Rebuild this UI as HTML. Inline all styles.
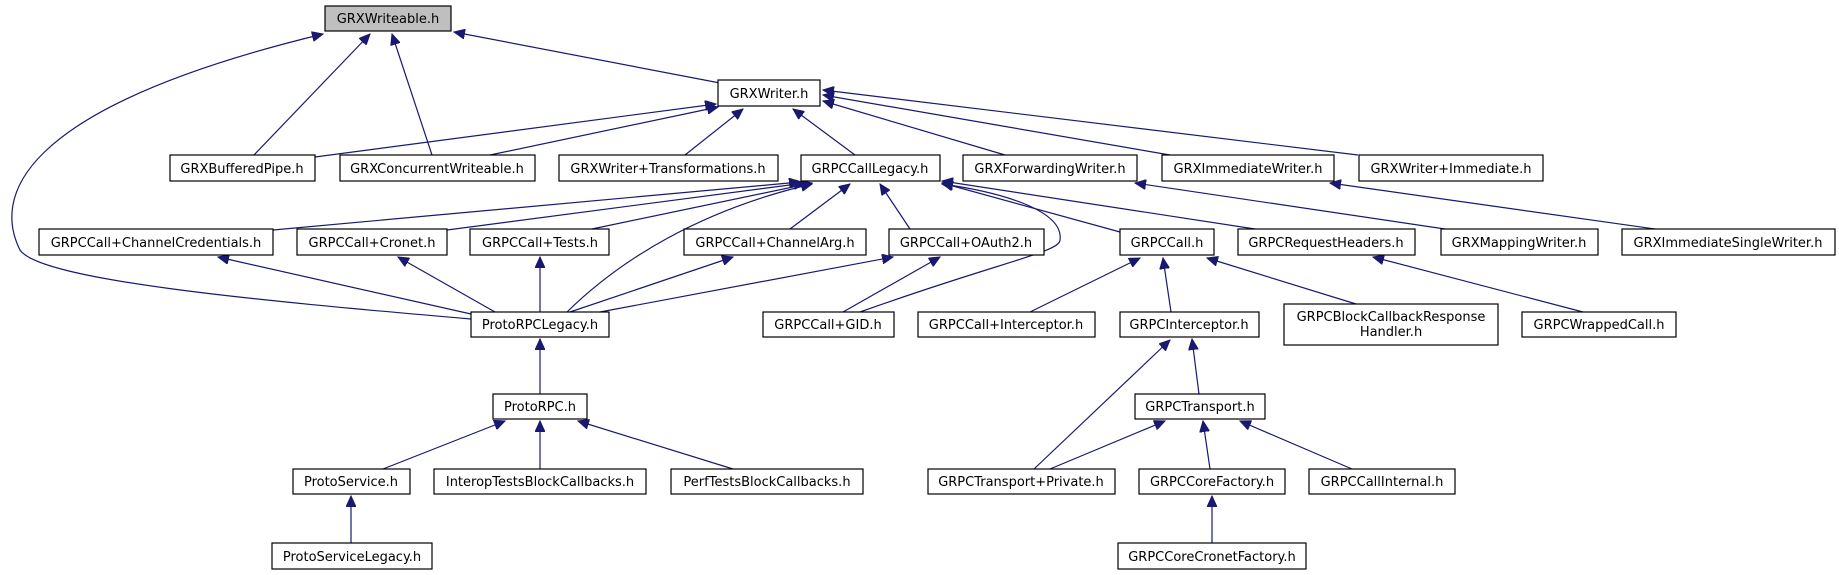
<!DOCTYPE html>
<html><head><meta charset="utf-8"><style>
html,body{margin:0;padding:0;background:#fff;}
svg{display:block;}
text{font-family:"DejaVu Sans","Liberation Sans",sans-serif;font-size:13px;fill:#000;}
.e{stroke:#191970;stroke-width:1.2;fill:none;marker-end:url(#a);}
.b{fill:#fff;stroke:#000;stroke-width:1.2;}
</style></head><body>
<svg width="1839" height="575" viewBox="0 0 1839 575" xmlns="http://www.w3.org/2000/svg">
<defs><marker id="a" markerUnits="userSpaceOnUse" markerWidth="12" markerHeight="10" refX="11" refY="5" orient="auto"><path d="M0,0 L11,5 L0,10 z" fill="#191970" stroke="#191970"/></marker></defs>
<!-- edges -->
<path class="e" d="M720,83 L454,32"/>
<path class="e" d="M254,155 L370,34"/>
<path class="e" d="M432,155 L392,34"/>
<path class="e" d="M471,319 C250,300 40,280 20,250 C-5,200 10,110 323,34"/>
<path class="e" d="M315,157 L716,104"/>
<path class="e" d="M490,155 L718,107"/>
<path class="e" d="M685,155 L743,109"/>
<path class="e" d="M855,155 L793,109"/>
<path class="e" d="M1005,155 L823,101"/>
<path class="e" d="M1170,155 L823,95"/>
<path class="e" d="M1358,155 L823,90"/>
<path class="e" d="M273,230 L800,182"/>
<path class="e" d="M447,230 L805,183"/>
<path class="e" d="M592,229 L812,183"/>
<path class="e" d="M567,312 C620,260 700,210 812,184"/>
<path class="e" d="M790,229 L850,184"/>
<path class="e" d="M910,229 L880,184"/>
<path class="e" d="M860,312 C1000,262 1060,252 1060,240 C1064,210 1000,192 942,184"/>
<path class="e" d="M1120,232 L942,183"/>
<path class="e" d="M1255,229 L942,181"/>
<path class="e" d="M1445,229 L1135,183"/>
<path class="e" d="M1655,229 L1330,183"/>
<path class="e" d="M471,314 L218,257"/>
<path class="e" d="M495,312 L398,257"/>
<path class="e" d="M540,312 L540,257"/>
<path class="e" d="M570,312 L733,257"/>
<path class="e" d="M600,312 L893,257"/>
<path class="e" d="M843,312 L940,257"/>
<path class="e" d="M1030,312 L1140,258"/>
<path class="e" d="M1171,312 L1163,258"/>
<path class="e" d="M1356,304 L1207,258"/>
<path class="e" d="M1583,312 L1373,257"/>
<path class="e" d="M540,394 L540,339"/>
<path class="e" d="M383,469 L505,421"/>
<path class="e" d="M540,469 L540,421"/>
<path class="e" d="M733,469 L578,421"/>
<path class="e" d="M351,543 L351,496"/>
<path class="e" d="M1034,469 L1170,340"/>
<path class="e" d="M1199,394 L1192,339"/>
<path class="e" d="M1050,469 L1165,421"/>
<path class="e" d="M1210,469 L1203,421"/>
<path class="e" d="M1352,469 L1240,421"/>
<path class="e" d="M1212,543 L1212,496"/>
<!-- nodes -->
<rect x="325" y="6" width="126" height="25" fill="#bfbfbf" stroke="#000" stroke-width="1.2"/><text x="388" y="23" text-anchor="middle">GRXWriteable.h</text>
<rect class="b" x="718" y="80" width="102" height="26"/><text x="769" y="98" text-anchor="middle">GRXWriter.h</text>
<rect class="b" x="170" y="155" width="145" height="26"/><text x="242" y="173" text-anchor="middle">GRXBufferedPipe.h</text>
<rect class="b" x="340" y="155" width="195" height="26"/><text x="437" y="173" text-anchor="middle">GRXConcurrentWriteable.h</text>
<rect class="b" x="559" y="155" width="219" height="26"/><text x="668" y="173" text-anchor="middle">GRXWriter+Transformations.h</text>
<rect class="b" x="801" y="155" width="139" height="26"/><text x="870" y="173" text-anchor="middle">GRPCCallLegacy.h</text>
<rect class="b" x="963" y="155" width="174" height="26"/><text x="1050" y="173" text-anchor="middle">GRXForwardingWriter.h</text>
<rect class="b" x="1162" y="155" width="172" height="26"/><text x="1248" y="173" text-anchor="middle">GRXImmediateWriter.h</text>
<rect class="b" x="1359" y="155" width="184" height="26"/><text x="1451" y="173" text-anchor="middle">GRXWriter+Immediate.h</text>
<rect class="b" x="39" y="229" width="234" height="26"/><text x="156" y="247" text-anchor="middle">GRPCCall+ChannelCredentials.h</text>
<rect class="b" x="297" y="229" width="150" height="26"/><text x="372" y="247" text-anchor="middle">GRPCCall+Cronet.h</text>
<rect class="b" x="470" y="229" width="139" height="26"/><text x="540" y="247" text-anchor="middle">GRPCCall+Tests.h</text>
<rect class="b" x="684" y="229" width="182" height="26"/><text x="775" y="247" text-anchor="middle">GRPCCall+ChannelArg.h</text>
<rect class="b" x="889" y="229" width="155" height="26"/><text x="966" y="247" text-anchor="middle">GRPCCall+OAuth2.h</text>
<rect class="b" x="1120" y="229" width="94" height="26"/><text x="1167" y="247" text-anchor="middle">GRPCCall.h</text>
<rect class="b" x="1238" y="229" width="177" height="26"/><text x="1326" y="247" text-anchor="middle">GRPCRequestHeaders.h</text>
<rect class="b" x="1441" y="229" width="157" height="26"/><text x="1519" y="247" text-anchor="middle">GRXMappingWriter.h</text>
<rect class="b" x="1622" y="229" width="213" height="26"/><text x="1728" y="247" text-anchor="middle">GRXImmediateSingleWriter.h</text>
<rect class="b" x="471" y="312" width="138" height="25"/><text x="540" y="329" text-anchor="middle">ProtoRPCLegacy.h</text>
<rect class="b" x="763" y="312" width="131" height="25"/><text x="828" y="329" text-anchor="middle">GRPCCall+GID.h</text>
<rect class="b" x="918" y="312" width="177" height="25"/><text x="1006" y="329" text-anchor="middle">GRPCCall+Interceptor.h</text>
<rect class="b" x="1120" y="312" width="139" height="25"/><text x="1189" y="329" text-anchor="middle">GRPCInterceptor.h</text>
<rect class="b" x="1284" y="304" width="214" height="41"/><text x="1391" y="321" text-anchor="middle">GRPCBlockCallbackResponse</text><text x="1391" y="336" text-anchor="middle">Handler.h</text>
<rect class="b" x="1522" y="312" width="154" height="25"/><text x="1599" y="329" text-anchor="middle">GRPCWrappedCall.h</text>
<rect class="b" x="493" y="394" width="94" height="25"/><text x="540" y="411" text-anchor="middle">ProtoRPC.h</text>
<rect class="b" x="1135" y="394" width="130" height="25"/><text x="1200" y="411" text-anchor="middle">GRPCTransport.h</text>
<rect class="b" x="293" y="469" width="117" height="25"/><text x="351" y="486" text-anchor="middle">ProtoService.h</text>
<rect class="b" x="434" y="469" width="212" height="25"/><text x="540" y="486" text-anchor="middle">InteropTestsBlockCallbacks.h</text>
<rect class="b" x="671" y="469" width="192" height="25"/><text x="767" y="486" text-anchor="middle">PerfTestsBlockCallbacks.h</text>
<rect class="b" x="928" y="469" width="187" height="25"/><text x="1021" y="486" text-anchor="middle">GRPCTransport+Private.h</text>
<rect class="b" x="1139" y="469" width="146" height="25"/><text x="1212" y="486" text-anchor="middle">GRPCCoreFactory.h</text>
<rect class="b" x="1309" y="469" width="146" height="25"/><text x="1382" y="486" text-anchor="middle">GRPCCallInternal.h</text>
<rect class="b" x="272" y="543" width="160" height="26"/><text x="352" y="561" text-anchor="middle">ProtoServiceLegacy.h</text>
<rect class="b" x="1118" y="543" width="188" height="26"/><text x="1212" y="561" text-anchor="middle">GRPCCoreCronetFactory.h</text>
</svg>
</body></html>
